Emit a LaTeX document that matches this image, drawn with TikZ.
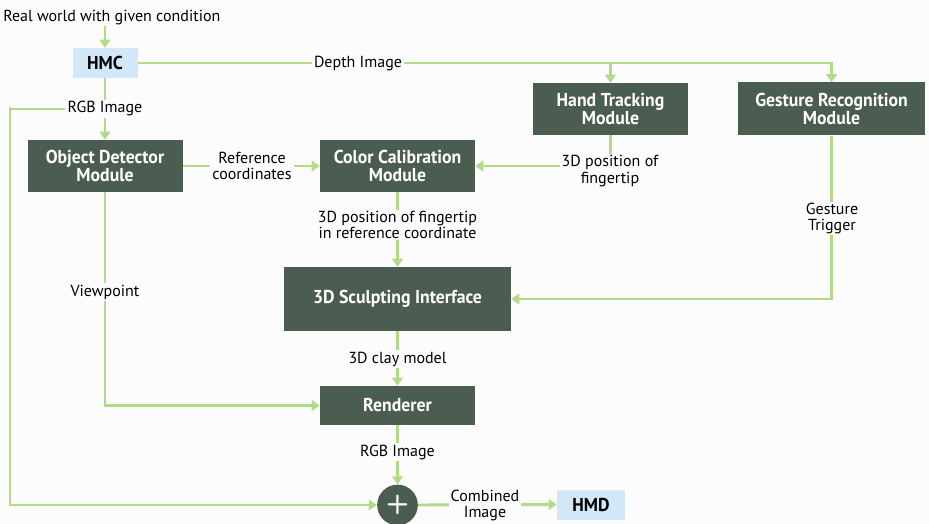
\documentclass[tikz,border=0pt]{standalone}
\usepackage{fontspec}
\setmainfont{PT Sans}
\newfontfamily\boxfont{PT Sans}[FakeStretch=0.95]
\usetikzlibrary{arrows.meta}
\definecolor{pagebg}{HTML}{FCFCFC}
\definecolor{modfill}{HTML}{4B5D50}
\definecolor{flow}{HTML}{B3DA88}
\definecolor{devfill}{HTML}{D2E8F9}
\pgfdeclarelayer{paper}
\pgfdeclarelayer{wires}
\pgfsetlayers{paper,wires,main}
\tikzset{
  module/.style={fill=modfill, text=white, font=\boxfont\bfseries\fontsize{14}{13.5}\selectfont,
    align=center, inner sep=0pt},
  device/.style={fill=devfill, text=black, font=\boxfont\bfseries\fontsize{14}{13.5}\selectfont,
    inner sep=0pt},
  tag/.style={fill=pagebg, text=black, font=\fontsize{12}{12.3}\selectfont, align=center,
    inner xsep=1.5pt, inner ysep=1pt},
  wire/.style={draw=flow, line width=2.2pt},
  flowto/.style={wire, -{Triangle[length=6pt,width=8pt]}},
  adder/.style={circle, fill=modfill, minimum size=30.5pt, inner sep=0pt}
}
\begin{document}
\begin{tikzpicture}[x=0.75pt,y=-0.75pt]
\begin{pgfonlayer}{paper}
  \fill[pagebg] (0,0) rectangle (929,524);
\end{pgfonlayer}
\useasboundingbox (0,0) rectangle (929,524);

% input text
\node[tag, fill=none, anchor=west, inner xsep=0pt] (world) at (3,17.5) {Real world with given condition};

% devices and modules
\node[device, minimum width=48.75pt, minimum height=22.5pt] (hmc) at (105,63) {HMC};
\node[module, minimum width=116.25pt, minimum height=39pt] (obj) at (105,166) {Object Detector\\Module};
\node[module, minimum width=116.25pt, minimum height=39pt] (calib) at (397.5,166) {Color Calibration\\Module};
\node[module, minimum width=116.25pt, minimum height=39pt] (hand) at (610.5,109) {Hand Tracking\\Module};
\node[module, minimum width=140.25pt, minimum height=39.75pt] (gest) at (831.5,109) {Gesture Recognition\\Module};
\node[module, minimum width=170.25pt, minimum height=48pt] (sculpt) at (397.5,299) {3D Sculpting Interface};
\node[module, minimum width=116.25pt, minimum height=29.25pt] (rend) at (397.5,405.5) {Renderer};
\node[adder] (plus) at (397.5,505) {};
\node[text=white, font=\sffamily\bfseries\fontsize{20}{20}\selectfont] (plussign) at (plus) {+};
\node[device, minimum width=51pt, minimum height=22.5pt] (hmd) at (591,504.5) {HMD};

% connector labels
\node[tag] (ldepth) at (358,64) {Depth Image};
\node[tag] (lrgbA) at (105,109) {RGB Image};
\node[tag] (lref) at (252,166) {Reference\\coordinates};
\node[tag] (lfinger) at (610,171) {3D position of\\fingertip};
\node[tag] (lref3d) at (397.5,225) {3D position of fingertip\\in reference coordinate};
\node[tag] (ltrigger) at (832,218.5) {Gesture\\Trigger};
\node[tag] (lview) at (105,292) {Viewpoint};
\node[tag] (lclay) at (397.5,359) {3D clay model};
\node[tag] (lrgbB) at (397.5,452) {RGB Image};
\node[tag] (lcomb) at (485,505.5) {Combined\\Image};

\coordinate (leftrail) at (10,107);

% connectors
\begin{pgfonlayer}{wires}
  \draw[flowto] (world.south -| hmc.north) -- (hmc.north);
  \draw[flowto] (hmc.east) -- (hmc.east -| gest.north) -- (gest.north);
  \draw[flowto] (hmc.east -| hand.north) -- (hand.north);
  \draw[flowto] (hmc.south) -- (obj.north);
  \draw[flowto] (lrgbA.west) -| (leftrail) |- (plus.west);
  \draw[flowto] (obj.east) -- (calib.west);
  \draw[flowto] (hand.south) |- (calib.east);
  \draw[flowto] (calib.south) -- (sculpt.north);
  \draw[flowto] (gest.south) |- (sculpt.east);
  \draw[flowto] (obj.south) |- (rend.west);
  \draw[flowto] (sculpt.south) -- (rend.north);
  \draw[flowto] (rend.south) -- (plus.north);
  \draw[flowto] (plus.east) -- (hmd.west);
\end{pgfonlayer}
\end{tikzpicture}
\end{document}
